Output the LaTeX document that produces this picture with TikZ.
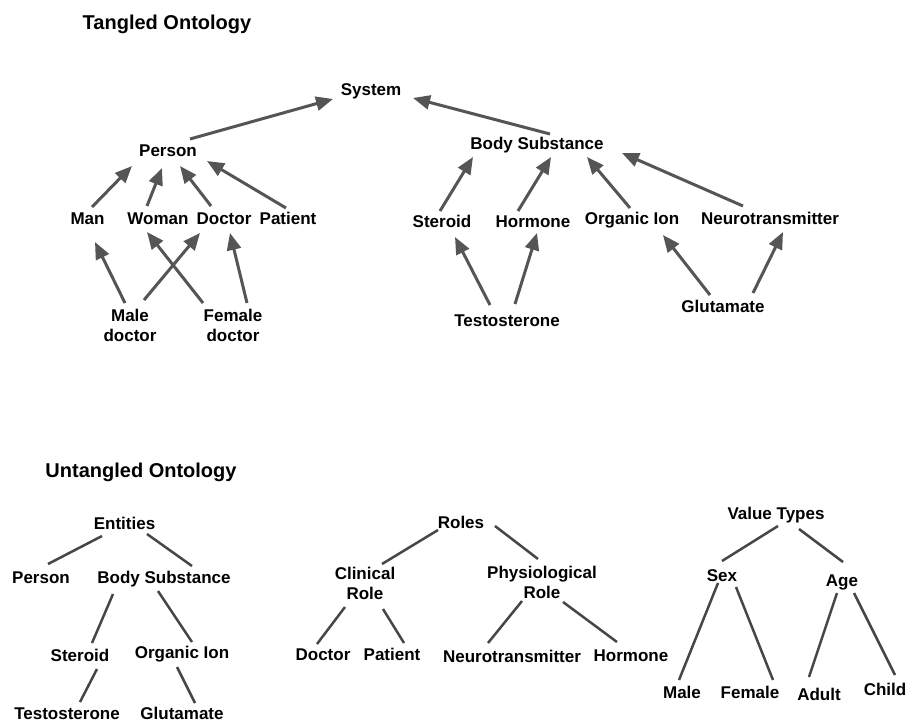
\documentclass[tikz,border=0pt]{standalone}
\usepackage{fontspec}
\setmainfont{Liberation Sans}
\usetikzlibrary{arrows.meta}

\definecolor{arrowgray}{RGB}{85,85,85}
\definecolor{linegray}{RGB}{70,70,70}

\tikzset{
    lbl/.style={font=\bfseries\fontsize{17}{20}\selectfont, inner sep=0pt,
        text height=12.2pt, text depth=0pt},
    lbltwo/.style={font=\bfseries\fontsize{17}{20}\selectfont, inner sep=0pt,
        align=center},
    ttl/.style={font=\bfseries\fontsize{20}{24}\selectfont, inner sep=0pt,
        text height=14.3pt, text depth=0pt},
    isa/.style={draw=arrowgray, line width=3pt,
        -{Triangle[length=17pt,width=14pt]}},
    link/.style={draw=linegray, line width=2.5pt},
}

\begin{document}
\begin{tikzpicture}[x=1pt,y=-1pt]
        \useasboundingbox (0,0) rectangle (907,723);

        % tangled ontology
        \node[ttl] (ttangled) at (167,22) {Tangled Ontology};
        \node[lbl] (sys) at (371,89) {System};
        \node[lbl] (person) at (168,150) {Person};
        \node[lbl] (man) at (87.5,218) {Man};
        \node[lbl] (woman) at (158,218) {Woman};
        \node[lbl] (doctor) at (224,218) {Doctor};
        \node[lbl] (patient) at (288,218) {Patient};
        \node[lbltwo] (maledoc) at (130,325) {Male\\doctor};
        \node[lbltwo] (femdoc) at (233,325) {Female\\doctor};
        \node[lbl] (body) at (537,143) {Body Substance};
        \node[lbl] (steroid) at (442,221) {Steroid};
        \node[lbl] (hormone) at (533,221) {Hormone};
        \node[lbl] (orgion) at (632,218) {Organic Ion};
        \node[lbl] (neuro) at (770,218) {Neurotransmitter};
        \node[lbl] (testo) at (507,320) {Testosterone};
        \node[lbl] (gluta) at (723,306) {Glutamate};

        \draw[isa] ([shift={(22,-11)}]person.center) -- ([shift={(-38,10)}]sys.center);
        \draw[isa] ([shift={(13,-9)}]body.center) -- ([shift={(42,9)}]sys.center);
        \draw[isa] ([shift={(4.5,-11)}]man.center) -- ([shift={(-36,16)}]person.center);
        \draw[isa] ([shift={(-11,-12)}]woman.center) -- ([shift={(-6,18)}]person.center);
        \draw[isa] ([shift={(-13,-12)}]doctor.center) -- ([shift={(12,16)}]person.center);
        \draw[isa] ([shift={(-2,-10)}]patient.center) -- ([shift={(39,11)}]person.center);
        \draw[isa] ([shift={(-5,-22)}]maledoc.center) -- ([shift={(7.5,24)}]man.center);
        \draw[isa] ([shift={(14,-25)}]maledoc.center) -- ([shift={(-24,15)}]doctor.center);
        \draw[isa] ([shift={(-30,-22)}]femdoc.center) -- ([shift={(-11,14)}]woman.center);
        \draw[isa] ([shift={(14,-22)}]femdoc.center) -- ([shift={(6,15)}]doctor.center);
        \draw[isa] ([shift={(-2,-10)}]steroid.center) -- ([shift={(-64,14)}]body.center);
        \draw[isa] ([shift={(-15,-10)}]hormone.center) -- ([shift={(14,14)}]body.center);
        \draw[isa] ([shift={(-2,-10)}]orgion.center) -- ([shift={(50,14)}]body.center);
        \draw[isa] ([shift={(-27,-12)}]neuro.center) -- ([shift={(85,10)}]body.center);
        \draw[isa] ([shift={(-17,-15)}]testo.center) -- ([shift={(13,16)}]steroid.center);
        \draw[isa] ([shift={(8,-16)}]testo.center) -- ([shift={(4,12)}]hormone.center);
        \draw[isa] ([shift={(-13,-11)}]gluta.center) -- ([shift={(31,17)}]orgion.center);
        \draw[isa] ([shift={(30,-13)}]gluta.center) -- ([shift={(13,14)}]neuro.center);

        % untangled ontology
        \node[ttl] (tuntangled) at (141,470) {Untangled Ontology};
        \node[lbl] (ent) at (124.5,523) {Entities};
        \node[lbl] (bperson) at (41,577) {Person};
        \node[lbl] (bbody) at (164,577) {Body Substance};
        \node[lbl] (bster) at (80,655) {Steroid};
        \node[lbl] (borg) at (182,652) {Organic Ion};
        \node[lbl] (btesto) at (67,713) {Testosterone};
        \node[lbl] (bglu) at (182,713) {Glutamate};
        \node[lbl] (roles) at (461,522) {Roles};
        \node[lbltwo] (clin) at (365,583) {Clinical\\Role};
        \node[lbltwo] (phys) at (542,582) {Physiological\\Role};
        \node[lbl] (bdoc) at (323,654) {Doctor};
        \node[lbl] (bpat) at (392,654) {Patient};
        \node[lbl] (bneuro) at (512,656) {Neurotransmitter};
        \node[lbl] (bhorm) at (631,655) {Hormone};
        \node[lbl] (vt) at (776,513) {Value Types};
        \node[lbl] (sex) at (722,575) {Sex};
        \node[lbl] (age) at (842,580) {Age};
        \node[lbl] (male) at (682,692) {Male};
        \node[lbl] (female) at (750,692) {Female};
        \node[lbl] (adult) at (819,694) {Adult};
        \node[lbl] (child) at (885,689) {Child};

        \draw[link] ([shift={(-22.5,13)}]ent.center) -- ([shift={(7,-13)}]bperson.center);
        \draw[link] ([shift={(22.5,11)}]ent.center) -- ([shift={(28,-11)}]bbody.center);
        \draw[link] ([shift={(-51,17)}]bbody.center) -- ([shift={(12,-12)}]bster.center);
        \draw[link] ([shift={(-6,14)}]bbody.center) -- ([shift={(10,-10)}]borg.center);
        \draw[link] ([shift={(17,14)}]bster.center) -- ([shift={(13,-11)}]btesto.center);
        \draw[link] ([shift={(-5,15)}]borg.center) -- ([shift={(13,-10)}]bglu.center);
        \draw[link] ([shift={(-23,8)}]roles.center) -- ([shift={(17,-19)}]clin.center);
        \draw[link] ([shift={(34,4)}]roles.center) -- ([shift={(-4,-23)}]phys.center);
        \draw[link] ([shift={(-20,24)}]clin.center) -- ([shift={(-6,-10)}]bdoc.center);
        \draw[link] ([shift={(18,26)}]clin.center) -- ([shift={(12,-11)}]bpat.center);
        \draw[link] ([shift={(-20,19)}]phys.center) -- ([shift={(-24,-13)}]bneuro.center);
        \draw[link] ([shift={(21,20)}]phys.center) -- ([shift={(-14,-13)}]bhorm.center);
        \draw[link] ([shift={(2,13)}]vt.center) -- ([shift={(0,-14)}]sex.center);
        \draw[link] ([shift={(23,16)}]vt.center) -- ([shift={(1,-18)}]age.center);
        \draw[link] ([shift={(-4,8)}]sex.center) -- ([shift={(-3,-12)}]male.center);
        \draw[link] ([shift={(14,12)}]sex.center) -- ([shift={(23,-12)}]female.center);
        \draw[link] ([shift={(-5,13)}]age.center) -- ([shift={(-10,-17)}]adult.center);
        \draw[link] ([shift={(12,13)}]age.center) -- ([shift={(10,-14)}]child.center);
    \end{tikzpicture}
\end{document}
